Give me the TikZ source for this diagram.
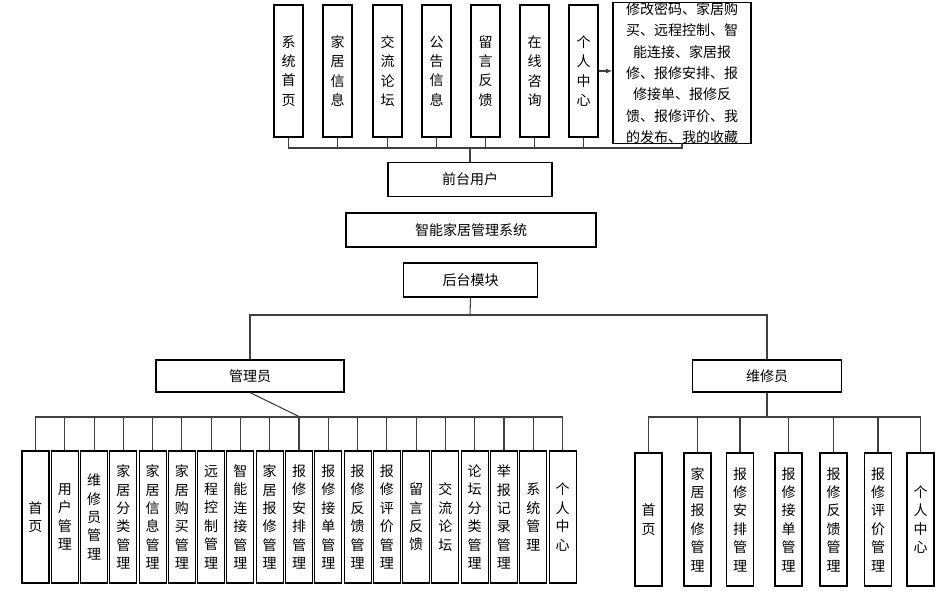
\documentclass[tikz,border=0pt]{standalone}
\usepackage{fontspec}
\newfontfamily\cjk{Noto Sans CJK SC}
\usetikzlibrary{arrows.meta}
\begin{document}
\begin{tikzpicture}[x=0.75pt,y=-0.75pt,
  box/.style={draw,line width=0.8pt,inner sep=0pt,font=\cjk\fontsize{10.5}{14.5}\selectfont,align=center},
  ln/.style={draw,line width=0.8pt,color=black!75}]
\useasboundingbox (0,0) rectangle (951,601);
% top boxes
\foreach \n/\l/\t in {t1/274/系\\统\\首\\页, t2/323/家\\居\\信\\息, t3/373/交\\流\\论\\坛, t4/422/公\\告\\信\\息, t5/471/留\\言\\反\\馈, t6/520/在\\线\\咨\\询, t7/569/个\\人\\中\\心}{
  \node[box,minimum width=21.75pt,minimum height=99pt] (\n) at ({\l+14.5},71) {\t};
}
\node[box,minimum width=103.5pt,minimum height=102pt,font=\cjk\fontsize{10.5}{16}\selectfont] (big) at (682,73) {修改密码、家居购\\买、远程控制、智\\能连接、家居报\\修、报修安排、报\\修接单、报修反\\馈、报修评价、我\\的发布、我的收藏};
\draw[ln,-{Latex[length=5pt]}] (t7.east) -- (big.west|-t7.east);
\coordinate (tb) at (470,148);
\foreach \n in {t1,t2,t3,t4,t5,t6,t7,big}{\draw[ln] (\n.south) |- (tb);}
\node[box,minimum width=123pt,minimum height=25pt,font=\cjk\fontsize{10.5}{14}\selectfont] (front) at (470,179.5) {前台用户};
\draw[ln] (tb) -- (front.north);
\node[box,minimum width=187.5pt,minimum height=25.5pt,font=\cjk\fontsize{10.5}{14}\selectfont] (sys) at (471,230) {智能家居管理系统};
\node[box,minimum width=101pt,minimum height=25.5pt,font=\cjk\fontsize{10.5}{14}\selectfont] (back) at (470.5,280) {后台模块};
\coordinate (mb) at (470,315);
\draw[ln] (back.south) -- (mb);
\node[box,minimum width=141pt,minimum height=24pt,font=\cjk\fontsize{10.5}{14}\selectfont] (admin) at (250,376) {管理员};
\node[box,minimum width=112pt,minimum height=24pt,font=\cjk\fontsize{10.5}{14}\selectfont] (rep) at (767,376) {维修员};
\draw[ln] (admin.north) |- (mb) -| (rep.north);
% admin children
\coordinate (ab) at (300,417);
\draw[ln] (admin.south) -- (ab);
\foreach \i/\t in {0/首\\页, 1/用\\户\\管\\理, 2/维\\修\\员\\管\\理, 3/家\\居\\分\\类\\管\\理, 4/家\\居\\信\\息\\管\\理, 5/家\\居\\购\\买\\管\\理, 6/远\\程\\控\\制\\管\\理, 7/智\\能\\连\\接\\管\\理, 8/家\\居\\报\\修\\管\\理, 9/报\\修\\安\\排\\管\\理, 10/报\\修\\接\\单\\管\\理, 11/报\\修\\反\\馈\\管\\理, 12/报\\修\\评\\价\\管\\理, 13/留\\言\\反\\馈, 14/交\\流\\论\\坛, 15/论\\坛\\分\\类\\管\\理, 16/举\\报\\记\\录\\管\\理, 17/系\\统\\管\\理, 18/个\\人\\中\\心}{
  \node[box,minimum width=20.25pt,minimum height=99pt,font=\cjk\fontsize{10.5}{13.8}\selectfont] (a\i) at ({35.5+\i*29.28},517) {\t};
  \draw[ln] (a\i.north) |- (ab);
}
% repairer children
\coordinate (rb) at (767,417);
\draw[ln] (rep.south) -- (rb);
\foreach \i/\x/\t in {0/648.5/首\\页, 1/697.5/家\\居\\报\\修\\管\\理, 2/740/报\\修\\安\\排\\管\\理, 3/788.5/报\\修\\接\\单\\管\\理, 4/833.5/报\\修\\反\\馈\\管\\理, 5/878/报\\修\\评\\价\\管\\理, 6/920.5/个\\人\\中\\心}{
  \node[box,minimum width=20.25pt,minimum height=99.75pt,font=\cjk\fontsize{10.5}{13.8}\selectfont] (r\i) at (\x,519.5) {\t};
  \draw[ln] (r\i.north) |- (rb);
}
\end{tikzpicture}
\end{document}
